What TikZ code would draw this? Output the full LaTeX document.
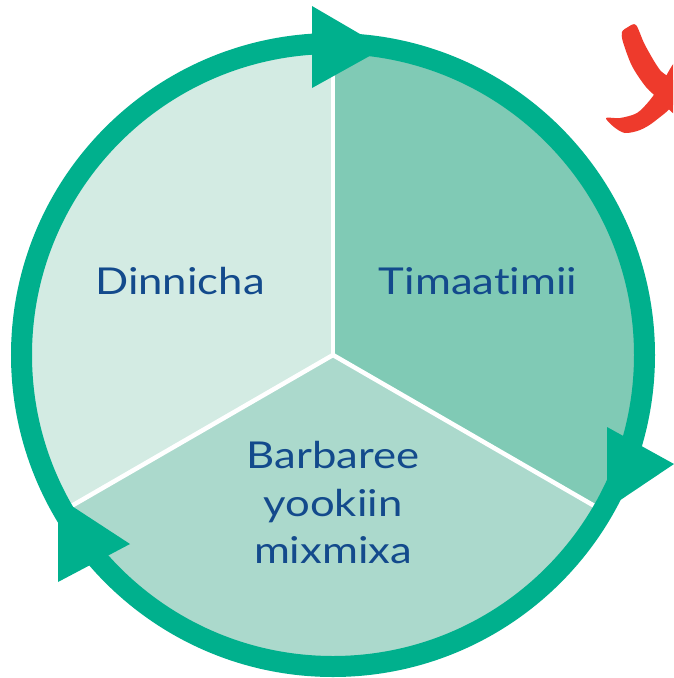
\documentclass[tikz,border=0pt]{standalone}
\usepackage{fontspec}
\setmainfont[FakeStretch=1.18,Ligatures=NoCommon]{Lato}
\definecolor{ringc}{HTML}{00B08D}
\definecolor{secA}{HTML}{D3EBE3}
\definecolor{secB}{HTML}{80CAB5}
\definecolor{secC}{HTML}{ABD9CC}
\definecolor{txt}{HTML}{134A8C}
\definecolor{redx}{HTML}{EE3A2C}
\begin{document}
\begin{tikzpicture}[x=1pt,y=-1pt,
  label/.style={text=txt,font=\fontsize{37}{47.5}\selectfont,align=center,inner sep=0pt},
  divider/.style={white,line width=4.5pt},
  arrowhead/.style={fill=ringc}]
\useasboundingbox (0,0) rectangle (673,678);
\coordinate (c) at (333,355);
\coordinate (top) at (333,45);
\coordinate (rgt) at (333+0.866*305,355+0.5*305);
\coordinate (lft) at (333-0.866*305,355+0.5*305);
\begin{scope}
  \clip (c) circle (305pt);
  \fill[secA] (c) -- (333,0) -- (0,0) -- (0,547) -- cycle;
  \fill[secB] (c) -- (333,0) -- (673,0) -- (673,551) -- cycle;
  \fill[secC] (c) -- (0,547) -- (0,700) -- (673,700) -- (673,551) -- cycle;
\end{scope}
\draw[divider] (c) -- (top);
\draw[divider] (c) -- (rgt);
\draw[divider] (c) -- (lft);
\draw[ringc,line width=21pt] (c) circle (311.5pt);
\fill[arrowhead] (312,6) -- (384,48) -- (312,88) -- cycle;
\fill[arrowhead] (607,427) -- (674,464) -- (607,509) -- cycle;
\fill[arrowhead] (58,497) -- (130,544) -- (58,582) -- cycle;
\node[label] (din) at (180,281) {Dinnicha};
\node[label] (tim) at (478,281) {Timaatimii};
\node[label] (bar) at (333,503) {Barbaree\\yookiin\\mixmixa};
\begin{scope}
  \clip (0,0) rectangle (673,678);
  \fill[redx] plot[smooth cycle,tension=0.5] coordinates {(623,42) (622,32) (628,27) (636,25)
    (645,45) (660,70) (676,84) (676,114) (660,100) (646,87) (632,66)};
  \fill[redx] plot[smooth cycle,tension=0.5] coordinates {(606,118) (620,118) (637,113) (650,100)
    (662,83) (676,62) (676,100) (655,121) (640,130) (625,133) (614,127)};
\end{scope}
\end{tikzpicture}
\end{document}
